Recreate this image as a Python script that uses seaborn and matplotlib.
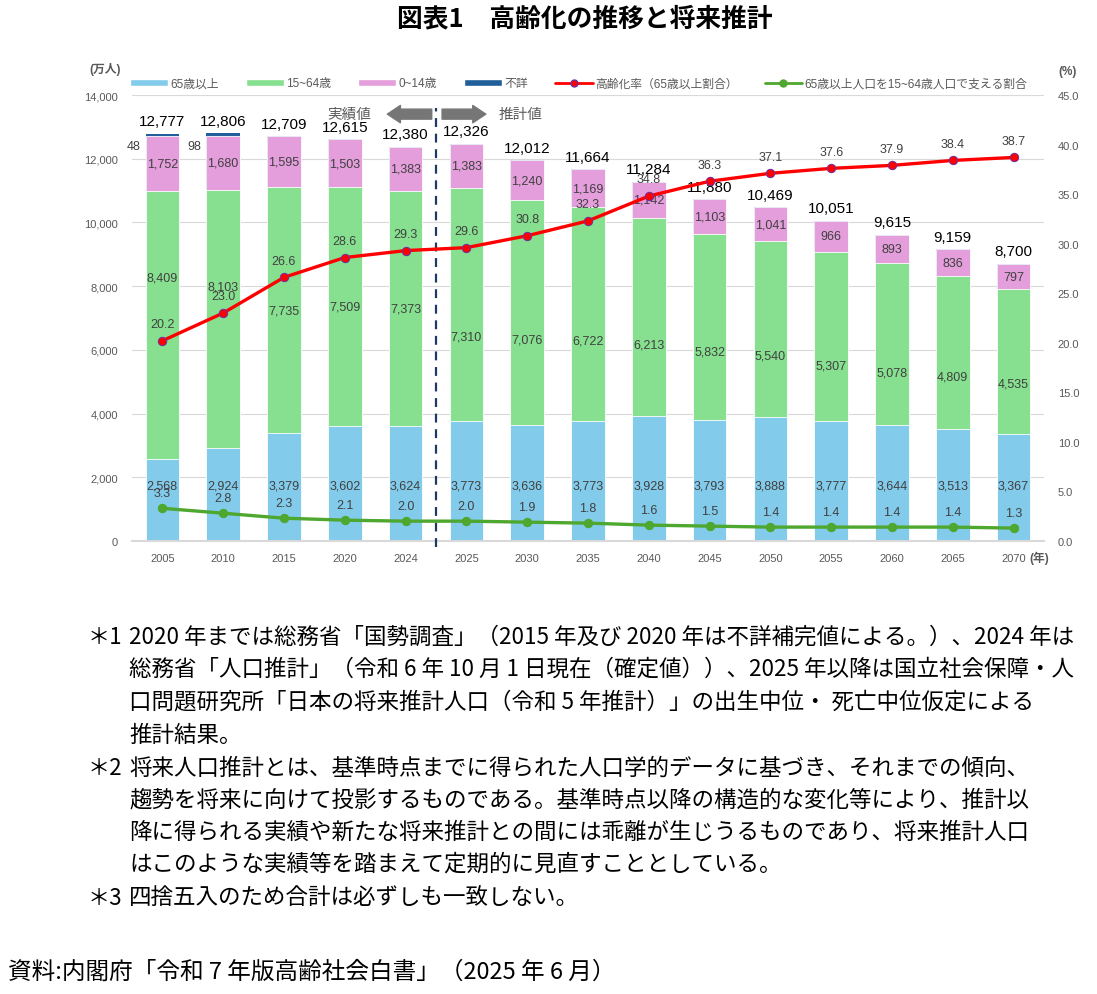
import numpy as np
import matplotlib
matplotlib.use("Agg")
import matplotlib.pyplot as plt
from matplotlib.patches import Patch
from matplotlib.lines import Line2D
import seaborn as sns

# data (万人 / %)
years = ["2005", "2010", "2015", "2020", "2024", "2025", "2030", "2035",
         "2040", "2045", "2050", "2055", "2060", "2065", "2070"]
pop_65 = [2568, 2924, 3379, 3602, 3624, 3773, 3636, 3773, 3928, 3793, 3888, 3777, 3644, 3513, 3367]
pop_15_64 = [8409, 8103, 7735, 7509, 7373, 7310, 7076, 6722, 6213, 5832, 5540, 5307, 5078, 4809, 4535]
pop_0_14 = [1752, 1680, 1595, 1503, 1383, 1383, 1240, 1169, 1142, 1103, 1041, 966, 893, 836, 797]
pop_unknown = [48, 98, 0, 0, 0, 0, 0, 0, 0, 0, 0, 0, 0, 0, 0]
total_labels = ["12,777", "12,806", "12,709", "12,615", "12,380", "12,326", "12,012", "11,664",
                "11,284", "11,880", "10,469", "10,051", "9,615", "9,159", "8,700"]
aging_rate = [20.2, 23.0, 26.6, 28.6, 29.3, 29.6, 30.8, 32.3, 34.8, 36.3, 37.1, 37.6, 37.9, 38.4, 38.7]
support_ratio = [3.3, 2.8, 2.3, 2.1, 2.0, 2.0, 1.9, 1.8, 1.6, 1.5, 1.4, 1.4, 1.4, 1.4, 1.3]

notes = [
    ("＊1", "2020 年までは総務省「国勢調査」（2015 年及び 2020 年は不詳補完値による。）、2024 年は"),
    ("", "総務省「人口推計」（令和 6 年 10 月 1 日現在（確定値））、2025 年以降は国立社会保障・人"),
    ("", "口問題研究所「日本の将来推計人口（令和 5 年推計）」の出生中位・ 死亡中位仮定による"),
    ("", "推計結果。"),
    ("＊2", "将来人口推計とは、基準時点までに得られた人口学的データに基づき、それまでの傾向、"),
    ("", "趨勢を将来に向けて投影するものである。基準時点以降の構造的な変化等により、推計以"),
    ("", "降に得られる実績や新たな将来推計との間には乖離が生じうるものであり、将来推計人口"),
    ("", "はこのような実績等を踏まえて定期的に見直すこととしている。"),
    ("＊3", "四捨五入のため合計は必ずしも一致しない。"),
]
source = "資料:内閣府「令和 7 年版高齢社会白書」（2025 年 6 月）"

sns.set_theme(style="white")
plt.rcParams["font.family"] = ["Liberation Sans", "Noto Sans CJK JP", "DejaVu Sans"]

c_65 = "#83CBEB"
c_1564 = "#86E08F"
c_014 = "#E39EDB"
c_unk = "#215F9A"
c_red = "#FF0000"
c_green = "#4EA72E"
grey_txt = "#595959"
lab_txt = "#404040"

fig = plt.figure(figsize=(10.97, 9.95), dpi=100)
ax = fig.add_axes([0.1203, 0.4553, 0.8314, 0.4482])

s1 = np.array(pop_65)
s2 = s1 + np.array(pop_15_64)
s3 = s2 + np.array(pop_0_14)
s4 = s3 + np.array(pop_unknown)

# stacked bars: draw cumulative heights from the top segment down
for vals, col, lw in [(s4, c_unk, 0), (s3, c_014, 0.6), (s2, c_1564, 0.6), (s1, c_65, 0.6)]:
    sns.barplot(x=years, y=vals, color=col, width=0.55, saturation=1,
                edgecolor="white", linewidth=lw, ax=ax)

ax.set_xlim(-0.5, 14.5)
ax.set_ylim(0, 14000)
ax.set_yticks(range(0, 14001, 2000))
ax.set_yticklabels([f"{v:,}" for v in range(0, 14001, 2000)])
ax.yaxis.grid(True, color="#D9D9D9", lw=0.8)
ax.set_axisbelow(True)
for sp in ["top", "right", "left"]:
    ax.spines[sp].set_visible(False)
ax.spines["bottom"].set_color("#D9D9D9")
ax.spines["bottom"].set_linewidth(1.5)
ax.tick_params(axis="both", length=0, labelsize=8, labelcolor=grey_txt)
ax.tick_params(axis="x", pad=9)
ax.tick_params(axis="y", pad=10)
ax.set_xlabel("")
ax.set_ylabel("")

# segment labels
green_shift = [1500, 1000, 0, 0, 0, -1000, -850, -850, -880, -750, -850, -930, -880, -740, -700]
for i in range(len(years)):
    ax.text(i, 1750, f"{pop_65[i]:,}", ha="center", va="center", fontsize=9, color=lab_txt)
    ax.text(i, s1[i] + pop_15_64[i] / 2 + green_shift[i], f"{pop_15_64[i]:,}",
            ha="center", va="center", fontsize=9, color=lab_txt)
    ax.text(i, s2[i] + pop_0_14[i] / 2, f"{pop_0_14[i]:,}", ha="center", va="center",
            fontsize=9, color=lab_txt)
    ax.annotate(total_labels[i], (i, s4[i]), xytext=(0, 4), textcoords="offset points",
                ha="center", va="bottom", fontsize=11, color="black")
    if pop_unknown[i]:
        ax.text(i - 0.48, 12400, f"{pop_unknown[i]}", ha="center", va="center",
                fontsize=9, color=lab_txt)

# line series on the right axis
ax2 = ax.twinx()
sns.lineplot(x=np.arange(len(years)), y=aging_rate, ax=ax2, color=c_red, lw=2.4,
             marker="o", markersize=6, markerfacecolor=c_red, markeredgecolor="#7030A0")
sns.lineplot(x=np.arange(len(years)), y=support_ratio, ax=ax2, color=c_green, lw=2.4,
             marker="o", markersize=6, markerfacecolor=c_green, markeredgecolor=c_green)
ax2.set_ylim(0, 45)
ax2.set_yticks(np.arange(0, 45.1, 5))
ax2.set_yticklabels([f"{v:.1f}" for v in np.arange(0, 45.1, 5)])
ax2.tick_params(axis="y", length=0, labelsize=8, labelcolor=grey_txt, pad=10)
ax2.grid(False)
for sp in ax2.spines.values():
    sp.set_visible(False)
ax2.set_xlim(-0.5, 14.5)

for i in range(len(years)):
    ax2.annotate(f"{aging_rate[i]:.1f}", (i, aging_rate[i]), xytext=(0, 12),
                 textcoords="offset points", ha="center", va="center", fontsize=9, color=lab_txt)
    ax2.annotate(f"{support_ratio[i]:.1f}", (i, support_ratio[i]), xytext=(0, 11),
                 textcoords="offset points", ha="center", va="center", fontsize=9, color=lab_txt)

# actual / projection divider
ax.plot([4.5, 4.5], [-0.013, 0.972], transform=ax.get_xaxis_transform(), color="#1F3864",
        lw=1.6, dashes=(4, 3), clip_on=False, zorder=5)
arrow = dict(arrowstyle="simple,head_length=0.94,head_width=1.25,tail_width=0.72",
             color="#767676", shrinkA=0, shrinkB=0, mutation_scale=10)
ax.annotate("", xy=(3.70, 13400), xytext=(4.43, 13400), arrowprops=arrow, annotation_clip=False)
ax.annotate("", xy=(5.32, 13400), xytext=(4.60, 13400), arrowprops=arrow, annotation_clip=False)
ax.text(3.08, 13400, "実績値", ha="center", va="center", fontsize=10.5, color=grey_txt)
ax.text(5.89, 13400, "推計値", ha="center", va="center", fontsize=10.5, color=grey_txt)

# legend
handles = [
    Patch(facecolor=c_65, label="65歳以上"),
    Patch(facecolor=c_1564, label="15~64歳"),
    Patch(facecolor=c_014, label="0~14歳"),
    Patch(facecolor=c_unk, label="不詳"),
    Line2D([], [], color=c_red, lw=2, marker="o", markersize=5, markerfacecolor=c_red,
           markeredgecolor="#7030A0", label="高齢化率（65歳以上割合）"),
    Line2D([], [], color=c_green, lw=2, marker="o", markersize=5, markerfacecolor=c_green,
           markeredgecolor=c_green, label="65歳以上人口を15~64歳人口で支える割合"),
]
leg = ax.legend(handles=handles, loc="center", bbox_to_anchor=(0.49, 1.026), ncol=6,
                frameon=False, fontsize=8.5, handlelength=3.2, handleheight=0.5,
                handletextpad=0.2, columnspacing=2.3, labelcolor=grey_txt)

# axis unit captions
fig.text(105 / 1097, 1 - 70 / 995, "(万人)", ha="center", va="center", fontsize=8.5,
         fontweight="bold", color=grey_txt)
fig.text(1068 / 1097, 1 - 72 / 995, "(%)", ha="center", va="center", fontsize=8.5,
         fontweight="bold", color=grey_txt)
fig.text(1029 / 1097, 1 - 558 / 995, "(年)", ha="left", va="center", fontsize=8.5,
         fontweight="bold", color=grey_txt)

# title
fig.text(585 / 1097, 1 - 19 / 995, "図表1　高齢化の推移と将来推計", ha="center", va="center",
         fontsize=18.5, fontweight="bold", color="black", family=["Noto Sans CJK JP"])

# notes
note_y = [637, 669, 702, 735, 768, 800, 832, 864, 898]
for (mark, txt), y in zip(notes, note_y):
    if mark:
        fig.text(88 / 1097, 1 - y / 995, mark, ha="left", va="center", fontsize=16,
                 color="black", family=["Noto Sans CJK JP"])
    fig.text(129 / 1097, 1 - y / 995, txt, ha="left", va="center", fontsize=16.2,
             color="black", family=["Noto Sans CJK JP"])
fig.text(8 / 1097, 1 - 972 / 995, source, ha="left", va="center", fontsize=17,
         color="black", family=["Noto Sans CJK JP"])

fig.savefig("out.png", dpi=100)
plt.close(fig)
